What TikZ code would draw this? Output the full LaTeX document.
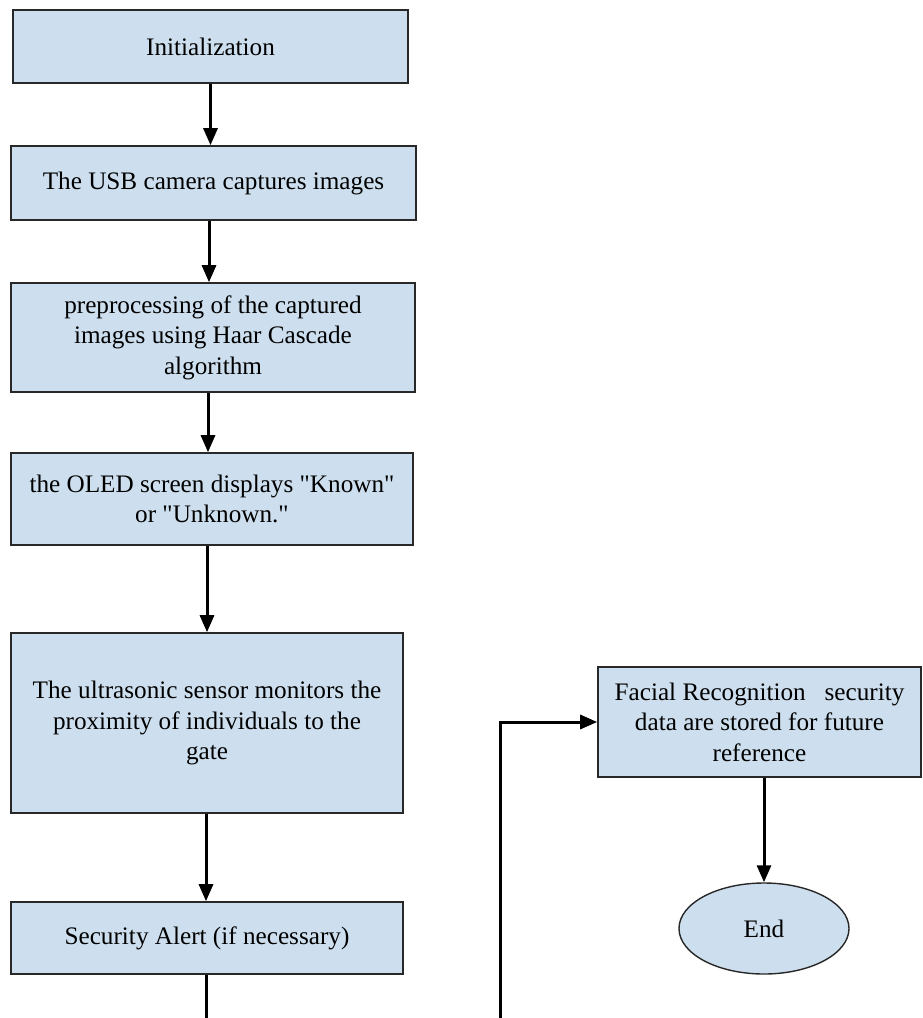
\documentclass[tikz,border=0pt]{standalone}
\usepackage{fontspec}
\setmainfont{Liberation Serif}[Ligatures=TeXOff]
\usetikzlibrary{arrows.meta,shapes.geometric}
\definecolor{boxfill}{RGB}{205,223,238}
\definecolor{boxline}{RGB}{40,40,40}
\begin{document}
\begin{tikzpicture}[x=1pt,y=-1pt,
  stepbox/.style={draw=boxline,fill=boxfill,line width=1.6pt,rectangle,align=center,inner sep=0pt,
    font=\fontsize{25.2}{30.5}\selectfont},
  endbox/.style={draw=boxline,fill=boxfill,line width=1.4pt,ellipse,inner sep=0pt,
    font=\fontsize{25.2}{30.5}\selectfont},
  flow/.style={line width=3pt,-{Triangle[length=17pt,width=14pt]}},
  plain/.style={line width=3pt}]
\useasboundingbox (0,0) rectangle (923,1018);
\node[stepbox,minimum width=395pt,minimum height=73pt] (init) at (210.5,46.5) {Initialization};
\node[stepbox,minimum width=405pt,minimum height=74pt] (cam) at (213.5,183) {The USB camera captures images};
\node[stepbox,minimum width=404pt,minimum height=109pt] (pre) at (213,337.5) {preprocessing of the captured\\images using Haar Cascade\\algorithm};
\node[stepbox,minimum width=402pt,minimum height=92pt] (oled) at (212,499) {the OLED screen displays "Known"\\or "Unknown."};
\node[stepbox,minimum width=392pt,minimum height=180pt] (ultra) at (207,723) {The ultrasonic sensor monitors the\\proximity of individuals to the\\gate};
\node[stepbox,minimum width=392pt,minimum height=72pt] (alert) at (207,938) {Security Alert (if necessary)};
\node[stepbox,minimum width=323pt,minimum height=110pt] (store) at (759.5,722) {Facial Recognition\ \ \ security\\data are stored for future\\reference};
\node[endbox,minimum width=170pt,minimum height=91pt] (end) at (764,928.5) {End};
\coordinate (e1) at (206,1018);
\coordinate (e2) at (500,1018);
\draw[flow] (init.south) -- (init.south |- cam.north);
\draw[flow] (cam.south -| 209,0) -- (pre.north -| 209,0);
\draw[flow] (pre.south -| 208,0) -- (oled.north -| 208,0);
\draw[flow] (oled.south -| 207,0) -- (ultra.north -| 207,0);
\draw[flow] (ultra.south -| 206,0) -- (alert.north -| 206,0);
\draw[plain] (alert.south -| 206,0) -- (e1);
\draw[flow] (e2) |- (store.west);
\draw[flow] (store.south -| end.north) -- (end.north);
\end{tikzpicture}
\end{document}
